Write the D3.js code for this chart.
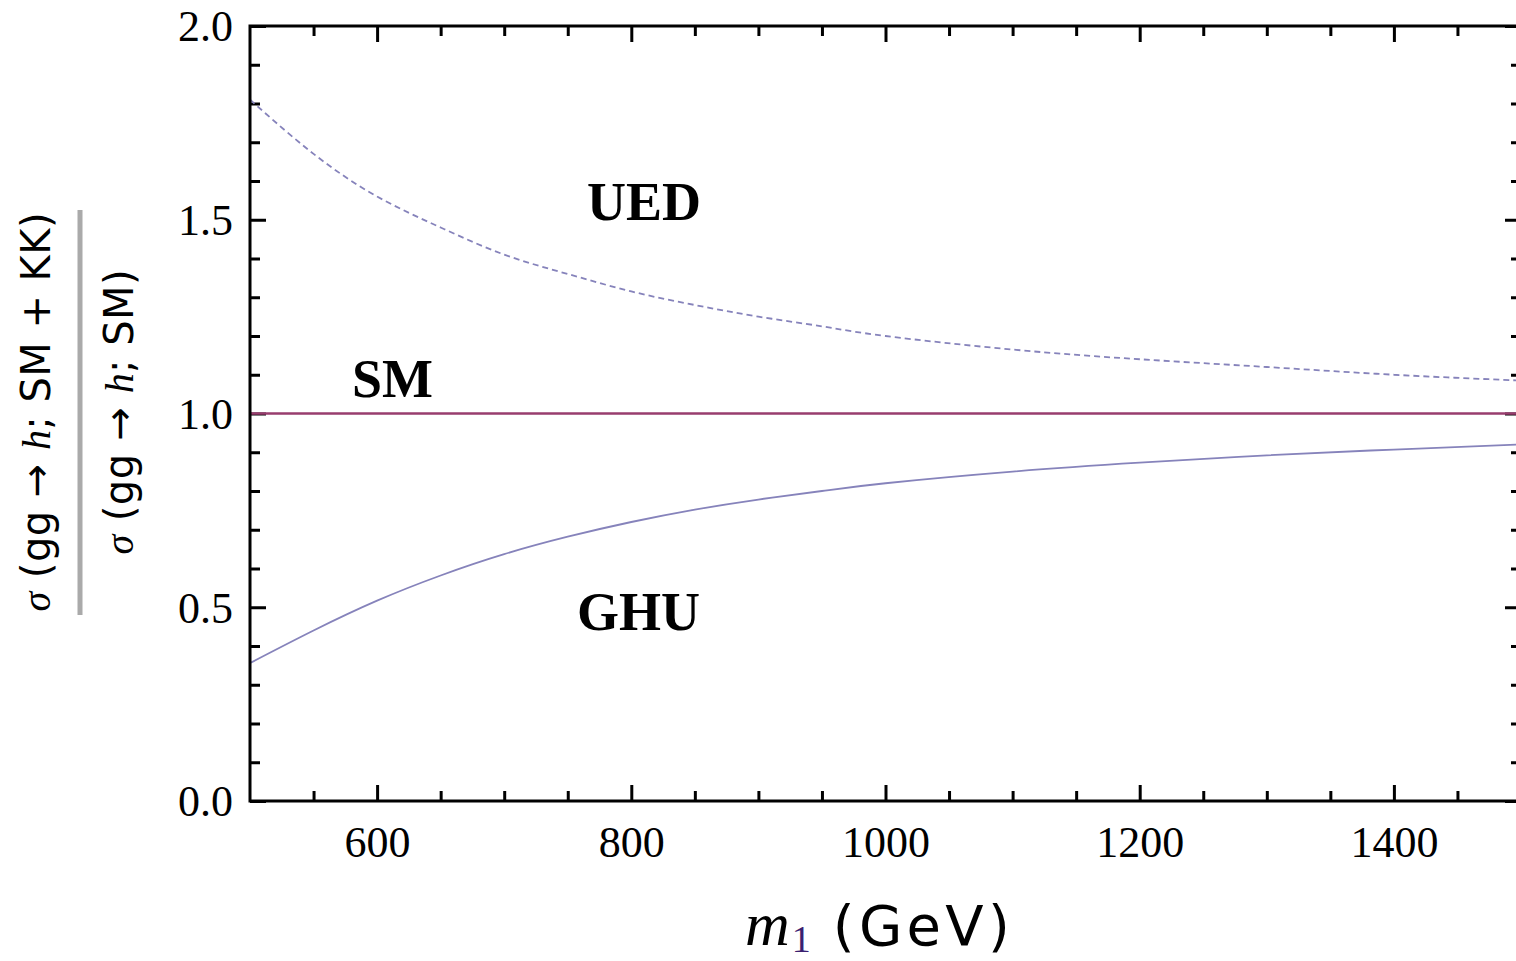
<!DOCTYPE html>
<html>
<head>
	<meta charset="utf-8">
	<title>index</title>
	<script src="https://d3js.org/d3.v7.min.js"></script>
	<style>
		body { margin:0; background:#fff; }
		svg { display:block; }
		.tick text { font-family:"Liberation Serif","Times New Roman",serif; font-size:44px; fill:#000; }
		.tick line { stroke:#000; stroke-width:3; }
		.lbl { font-family:"Liberation Serif","Times New Roman",serif; font-weight:bold; font-size:54px; }
	</style>
</head>
<body>
<script>

	// values
	var mass = [500,550,600,650,700,750,800,850,900,950,1000,1100,1200,1300,1400,1500];
	var ued  = [1.81,1.67,1.56,1.48,1.41,1.36,1.315,1.28,1.25,1.225,1.20,1.165,1.14,1.12,1.10,1.085];
	var ghu  = [0.356,0.44,0.517,0.582,0.637,0.682,0.72,0.752,0.778,0.80,0.82,0.85,0.873,0.892,0.907,0.92];
	var sm   = [1,1,1,1,1,1,1,1,1,1,1,1,1,1,1,1];

	var xMajor = [600,800,1000,1200,1400];
	var xMinor = [550,650,700,750,850,900,950,1050,1100,1150,1250,1300,1350,1450];
	var yMajor = [0,0.5,1,1.5,2];
	var yMinor = [0.1,0.2,0.3,0.4,0.6,0.7,0.8,0.9,1.1,1.2,1.3,1.4,1.6,1.7,1.8,1.9];

	var curveLabels = [
		{text:"UED", x:587, y:220},
		{text:"SM",  x:352, y:397},
		{text:"GHU", x:577, y:630}
	];

	var W = 1516, H = 961;
	var pLeft = 250, pTop = 26, pRight = 1521, pBottom = 801;

	var svg = d3.select("body").append("svg").attr("width",W).attr("height",H);

	var x = d3.scaleLinear().domain([500,1500]).range([pLeft,pRight]);
	var y = d3.scaleLinear().domain([0,2]).range([pBottom,pTop]);

	// clip for the curves
	svg.append("clipPath").attr("id","plot")
		.append("rect").attr("x",pLeft).attr("y",pTop).attr("width",pRight-pLeft).attr("height",pBottom-pTop);

	function fmt(d) { return d.toFixed(1); }

	// bottom axis
	var gb = svg.append("g").attr("transform","translate(0,"+pBottom+")");
	gb.call(d3.axisBottom(x).tickValues(xMajor).tickSize(-16).tickFormat(d3.format("d")));
	gb.selectAll(".tick text").attr("y",56).attr("dy",null);
	svg.append("g").attr("transform","translate(0,"+pBottom+")")
		.call(d3.axisBottom(x).tickValues(xMinor).tickSize(-10).tickFormat(""));

	// top axis
	svg.append("g").attr("transform","translate(0,"+pTop+")")
		.call(d3.axisTop(x).tickValues(xMajor).tickSize(-16).tickFormat(""));
	svg.append("g").attr("transform","translate(0,"+pTop+")")
		.call(d3.axisTop(x).tickValues(xMinor).tickSize(-10).tickFormat(""));

	// left axis
	var gl = svg.append("g").attr("transform","translate("+pLeft+",0)");
	gl.call(d3.axisLeft(y).tickValues(yMajor).tickSize(-16).tickFormat(fmt));
	gl.selectAll(".tick text").attr("x",-17).attr("dy","0.34em");
	svg.append("g").attr("transform","translate("+pLeft+",0)")
		.call(d3.axisLeft(y).tickValues(yMinor).tickSize(-10).tickFormat(""));

	// right axis
	svg.append("g").attr("transform","translate("+pRight+",0)")
		.call(d3.axisRight(y).tickValues(yMajor).tickSize(-16).tickFormat(""));
	svg.append("g").attr("transform","translate("+pRight+",0)")
		.call(d3.axisRight(y).tickValues(yMinor).tickSize(-10).tickFormat(""));

	svg.selectAll(".domain").remove();

	// curves
	var line = d3.line()
		.x(function(d) { return x(d[0]); })
		.y(function(d) { return y(d[1]); })
		.curve(d3.curveNatural);

	var gc = svg.append("g").attr("clip-path","url(#plot)");
	gc.append("path").datum(d3.zip(mass,sm)).attr("d",line)
		.attr("fill","none").attr("stroke","#983d6e").attr("stroke-width",2.5);
	gc.append("path").datum(d3.zip(mass,ued)).attr("d",line)
		.attr("fill","none").attr("stroke","#8683bb").attr("stroke-width",1.8)
		.attr("stroke-dasharray","6,4");
	gc.append("path").datum(d3.zip(mass,ghu)).attr("d",line)
		.attr("fill","none").attr("stroke","#8683bb").attr("stroke-width",1.8);

	// frame
	svg.append("rect").attr("x",pLeft).attr("y",pTop).attr("width",pRight-pLeft).attr("height",pBottom-pTop)
		.attr("fill","none").attr("stroke","#000").attr("stroke-width",3);

	// curve labels
	svg.selectAll(".lbl").data(curveLabels).enter().append("text")
		.attr("class","lbl")
		.attr("x",function(d) { return d.x; })
		.attr("y",function(d) { return d.y; })
		.text(function(d) { return d.text; });

	// x title
	var xt = svg.append("text").attr("x",745).attr("y",945);
	xt.append("tspan").attr("font-family","Liberation Serif, serif").attr("font-style","italic")
		.attr("font-size","62px").text("m");
	xt.append("tspan").attr("font-family","Liberation Serif, serif").attr("font-size","38px")
		.attr("dy",7).attr("dx",2).attr("fill","#3a2070").text("1");
	xt.append("tspan").attr("font-family","DejaVu Sans, sans-serif").attr("font-size","56px")
		.attr("dy",-7).attr("dx",22).attr("textLength",177).text("(GeV)");

	// y title (fraction)
	function ratioText(g, xpos, parts, len) {
		var t = g.append("text")
			.attr("transform","translate("+xpos+",412) rotate(-90)")
			.attr("text-anchor","middle")
			.attr("textLength",len).attr("lengthAdjust","spacing");
		parts.forEach(function(p) {
			t.append("tspan")
				.attr("font-family", p.it ? "Liberation Serif, serif" : "DejaVu Sans, sans-serif")
				.attr("font-style", p.it ? "italic" : "normal")
				.attr("font-size","40px")
				.text(p.s);
		});
	}
	var gy = svg.append("g");
	ratioText(gy, 50, [{s:"σ",it:true},{s:" (gg → "},{s:"h",it:true},{s:"; SM + KK)"}], 399);
	gy.append("rect").attr("x",77.5).attr("y",210).attr("width",5).attr("height",405).attr("fill","#aaaaaa");
	ratioText(gy, 133, [{s:"σ",it:true},{s:" (gg → "},{s:"h",it:true},{s:"; SM)"}], 285);

</script>
</body>
</html>
